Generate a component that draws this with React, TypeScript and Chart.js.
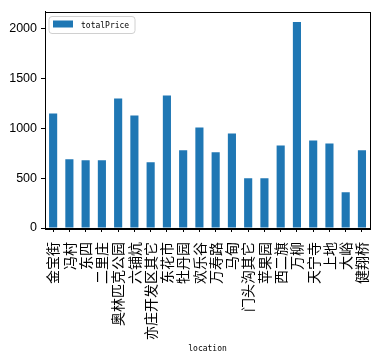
import React, { useEffect, useRef } from "react";
import { Chart, registerables } from "chart.js";

Chart.register(...registerables);

const categories = [
  "金宝街", "冯村", "东四", "二里庄", "奥林匹克公园", "六铺炕", "亦庄开发区其它",
  "东花市", "牡丹园", "欢乐谷", "万寿路", "马甸", "门头沟其它", "苹果园",
  "西二旗", "万柳", "天宁寺", "上地", "大峪", "健翔桥",
];
const totalPrice = [
  1150, 690, 680, 680, 1300, 1130, 660, 1330, 780, 1010, 760, 950, 500, 500,
  830, 2070, 880, 850, 360, 780,
];
const yTicks = [0, 500, 1000, 1500, 2000];
const seriesName = "totalPrice";
const xTitle = "location";

const framePlugin = {
  id: "frameLegend",
  afterDraw(chart: any) {
    const { ctx, chartArea } = chart;
    const { left, top, right, bottom } = chartArea;
    ctx.save();
    ctx.strokeStyle = "#000";
    ctx.lineWidth = 1;
    ctx.strokeRect(Math.round(left) + 0.5, Math.round(top) + 0.5, Math.round(right - left), Math.round(bottom - top));
    // legend
    const lx = left + 4, ly = top + 5, lw = 86, lh = 17, r = 3;
    ctx.beginPath();
    ctx.moveTo(lx + r, ly);
    ctx.lineTo(lx + lw - r, ly);
    ctx.quadraticCurveTo(lx + lw, ly, lx + lw, ly + r);
    ctx.lineTo(lx + lw, ly + lh - r);
    ctx.quadraticCurveTo(lx + lw, ly + lh, lx + lw - r, ly + lh);
    ctx.lineTo(lx + r, ly + lh);
    ctx.quadraticCurveTo(lx, ly + lh, lx, ly + lh - r);
    ctx.lineTo(lx, ly + r);
    ctx.quadraticCurveTo(lx, ly, lx + r, ly);
    ctx.closePath();
    ctx.fillStyle = "rgba(255,255,255,0.8)";
    ctx.fill();
    ctx.strokeStyle = "#d0d0d0";
    ctx.stroke();
    ctx.fillStyle = "#1f77b4";
    ctx.fillRect(lx + 4, ly + 4, 20, 7);
    ctx.fillStyle = "#000";
    ctx.font = "8px 'DejaVu Sans Mono'";
    ctx.textBaseline = "middle";
    ctx.textAlign = "left";
    ctx.fillText(seriesName, lx + 32, ly + 9);
    ctx.restore();
  },
};

export default function App() {
  const ref = useRef<HTMLCanvasElement>(null);
  useEffect(() => {
    if (!ref.current) return;
    const chart = new Chart(ref.current, {
      type: "bar",
      data: {
        labels: categories,
        datasets: [
          {
            label: seriesName,
            data: totalPrice,
            backgroundColor: "#1f77b4",
            barPercentage: 0.5,
            categoryPercentage: 1,
          },
        ],
      },
      options: {
        animation: false,
        responsive: true,
        maintainAspectRatio: false,
        layout: { padding: { top: 10, right: 10, left: 0, bottom: 0 } },
        plugins: { legend: { display: false }, tooltip: { enabled: false } },
        scales: {
          x: {
            offset: true,
            grid: { display: true, drawOnChartArea: false, drawTicks: true, tickLength: 4, color: "#000", offset: false },
            border: { display: true, color: "#000" },
            ticks: {
              autoSkip: false,
              minRotation: 90,
              maxRotation: 90,
              padding: 10,
              color: "#000",
              font: { family: "'Noto Sans CJK SC'", size: 14 },
            },
            title: {
              display: true,
              text: xTitle,
              color: "#000",
              font: { family: "'DejaVu Sans Mono'", size: 8 },
              padding: { top: 0, bottom: 5 },
            },
            afterFit(scale: any) {
              scale.height = 131;
            },
          },
          y: {
            min: 0,
            max: 2175,
            grid: { display: true, drawOnChartArea: false, drawTicks: true, tickLength: 4, color: "#000" },
            border: { display: true, color: "#000" },
            ticks: {
              stepSize: 500,
              padding: 4,
              color: "#000",
              font: { family: "'Liberation Sans'", size: 12.5 },
              callback: (v: any) => String(v),
            },
            afterBuildTicks(scale: any) {
              scale.ticks = yTicks.map((v) => ({ value: v }));
            },
            afterFit(scale: any) {
              scale.width = 45;
            },
          },
        },
      },
      plugins: [framePlugin],
    });
    return () => chart.destroy();
  }, []);
  return (
    <div style={{ position: "fixed", left: 0, top: 0, width: 389, height: 359, background: "#fff" }}>
      <canvas ref={ref} />
    </div>
  );
}
